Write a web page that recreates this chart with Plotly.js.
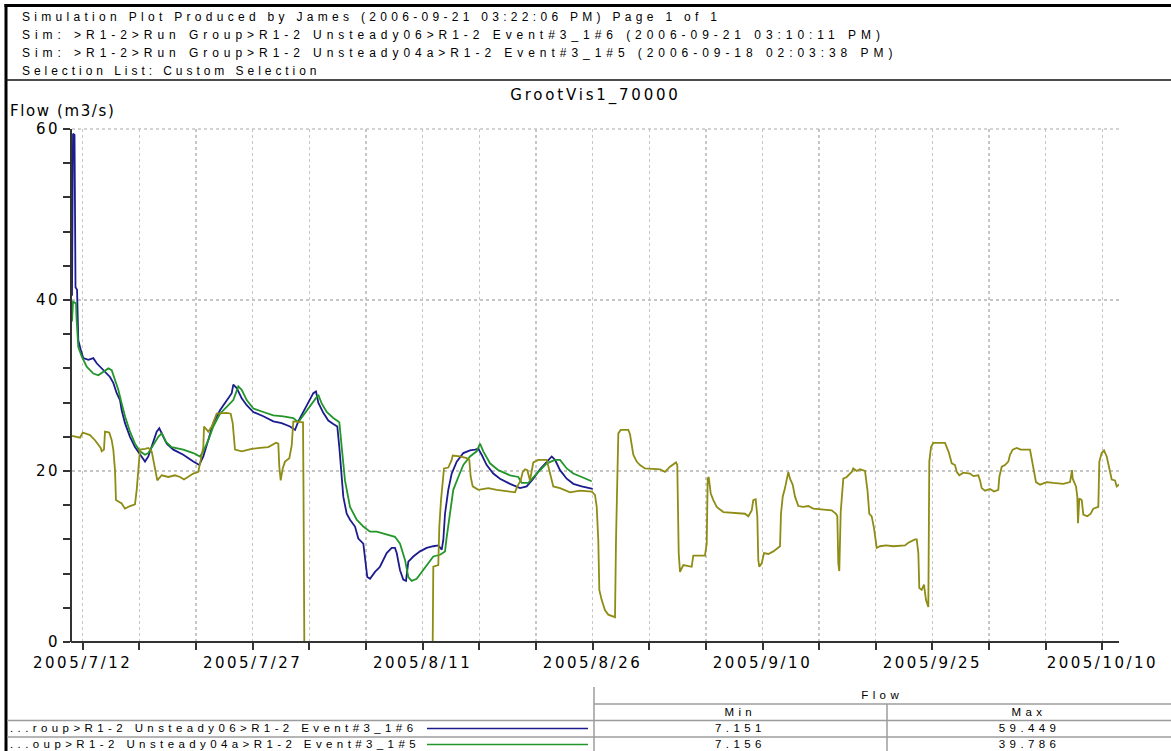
<!DOCTYPE html>
<html>
<head>
<meta charset="utf-8">
<script src="https://cdn.plot.ly/plotly-3.0.1.min.js"></script>
<style>
  html, body { margin: 0; padding: 0; background: #ffffff; }
  #chart { width: 1171px; height: 751px; }
</style>
</head>
<body>
<div id="chart"></div>
<script>
// ---- report header -------------------------------------------------------
const headerLines = [
  'Simulation Plot Produced by James (2006-09-21 03:22:06 PM) Page 1 of 1',
  'Sim: >R1-2>Run Group>R1-2 Unsteady06>R1-2 Event#3_1#6 (2006-09-21 03:10:11 PM)',
  'Sim: >R1-2>Run Group>R1-2 Unsteady04a>R1-2 Event#3_1#5 (2006-09-18 02:03:38 PM)',
  'Selection List: Custom Selection'
];
const plotTitle = 'GrootVis1_70000';
const yTitle = 'Flow (m3/s)';

// ---- axis ticks ------------------------------------------------------------
const xTickDates  = ['2005-07-12', '2005-07-27', '2005-08-11', '2005-08-26', '2005-09-10', '2005-09-25', '2005-10-10'];
const xTickLabels = ['2005/7/12', '2005/7/27', '2005/8/11', '2005/8/26', '2005/9/10', '2005/9/25', '2005/10/10'];
const yTickValues = [0, 20, 40, 60];

// ---- series: R1-2 Unsteady06 > Event#3_1#6 ---------------------------------
const runNames = ['...roup>R1-2 Unsteady06>R1-2 Event#3_1#6', '...oup>R1-2 Unsteady04a>R1-2 Event#3_1#5'];

const run06Time = [
  '2005-07-11 01:20','2005-07-11 02:20','2005-07-11 03:30','2005-07-11 06:40','2005-07-11 08:45','2005-07-11 12:00','2005-07-11 13:25','2005-07-11 14:40','2005-07-11 19:45',
  '2005-07-12 01:15','2005-07-12 12:00','2005-07-12 22:30','2005-07-13 05:40','2005-07-13 16:15','2005-07-13 23:15','2005-07-14 09:50','2005-07-14 16:50',
  '2005-07-15 00:00','2005-07-15 07:00','2005-07-15 10:35','2005-07-15 17:35','2005-07-16 04:10','2005-07-16 14:45','2005-07-17 01:25','2005-07-17 12:00',
  '2005-07-17 19:00','2005-07-18 04:15','2005-07-18 12:45','2005-07-18 18:15','2005-07-19 02:45','2005-07-19 10:00','2005-07-20 00:00','2005-07-20 21:05',
  '2005-07-21 18:15','2005-07-22 07:00','2005-07-22 15:30','2005-07-23 02:05','2005-07-23 12:40','2005-07-24 02:50','2005-07-24 17:00','2005-07-25 03:40',
  '2005-07-25 07:00','2005-07-25 14:15','2005-07-26 00:50','2005-07-26 11:25','2005-07-27 01:25','2005-07-27 22:35','2005-07-28 19:45','2005-07-29 13:30',
  '2005-07-30 07:05','2005-07-30 17:45','2005-07-31 00:40','2005-07-31 11:15','2005-07-31 21:55','2005-08-01 08:30','2005-08-01 14:10','2005-08-01 19:05',
  '2005-08-02 05:40','2005-08-02 16:15','2005-08-03 02:50','2005-08-03 11:20','2005-08-03 15:35','2005-08-03 20:40','2005-08-04 00:00','2005-08-04 07:15',
  '2005-08-04 14:15','2005-08-05 00:50','2005-08-05 07:50','2005-08-05 18:25','2005-08-05 22:00','2005-08-06 02:50','2005-08-06 08:35','2005-08-06 19:10',
  '2005-08-07 05:45','2005-08-07 19:55','2005-08-08 06:35','2005-08-08 13:30','2005-08-08 17:10','2005-08-09 00:10','2005-08-09 07:05','2005-08-09 12:50',
  '2005-08-09 17:45','2005-08-10 04:20','2005-08-10 18:30','2005-08-11 08:40','2005-08-11 22:40','2005-08-12 09:15','2005-08-12 16:30','2005-08-12 19:50',
  '2005-08-12 23:30','2005-08-13 06:25','2005-08-13 13:40','2005-08-14 00:15','2005-08-14 14:15','2005-08-15 04:25','2005-08-15 15:00','2005-08-15 22:00',
  '2005-08-16 05:10','2005-08-16 15:45','2005-08-17 05:45','2005-08-17 19:55','2005-08-18 17:10','2005-08-19 14:20','2005-08-20 04:30','2005-08-20 18:30',
  '2005-08-21 08:40','2005-08-21 22:55','2005-08-22 09:30','2005-08-22 16:30','2005-08-23 03:05','2005-08-23 17:15','2005-08-24 07:15','2005-08-25 01:00',
  '2005-08-26 00:20'
];
const run06Flow = [
  40.5, 59.2, 59.449, 59.3, 41.5, 41.2, 37.3, 35.3, 34.2,
  33.2, 33.0, 33.2, 32.6, 32.0, 31.7, 31.0, 30.3,
  29.1, 28.3, 27.1, 25.6, 24.0, 22.8, 21.9, 21.1,
  21.7, 23.2, 24.6, 25.0, 24.0, 23.2, 22.5, 21.9,
  21.1, 20.7, 21.7, 23.6, 25.6, 27.1, 28.3, 29.1,
  30.1, 29.7, 28.5, 27.7, 26.9, 26.4, 25.8, 25.6,
  25.2, 24.8, 25.8, 26.9, 27.9, 29.1, 29.3, 28.0,
  26.8, 25.9, 25.5, 25.2, 22.8, 19.7, 17.0, 15.0,
  14.3, 13.5, 12.1, 11.5, 9.6, 7.6, 7.4, 8.2,
  8.8, 10.4, 11.0, 11.0, 10.4, 8.4, 7.3, 7.151,
  9.4, 10.0, 10.6, 11.0, 11.2, 11.3, 10.8, 11.9,
  15.0, 17.8, 19.7, 21.1, 22.1, 22.4, 22.5, 22.6,
  21.9, 20.7, 19.7, 19.1, 18.5, 18.0, 18.2, 19.1,
  20.2, 21.1, 21.7, 21.3, 20.1, 19.1, 18.5, 18.2,
  17.9
];

// ---- series: R1-2 Unsteady04a > Event#3_1#5 --------------------------------
const run04aTime = [
  '2005-07-11 01:20','2005-07-11 03:30','2005-07-11 09:50','2005-07-11 10:50','2005-07-11 14:40','2005-07-11 21:55','2005-07-12 08:30','2005-07-12 22:30',
  '2005-07-13 09:05','2005-07-13 19:40','2005-07-14 06:15','2005-07-14 13:25','2005-07-14 20:25','2005-07-15 03:25','2005-07-15 10:35','2005-07-15 17:35',
  '2005-07-16 04:10','2005-07-16 14:45','2005-07-17 01:25','2005-07-17 12:00','2005-07-17 19:00','2005-07-18 05:35','2005-07-18 16:10','2005-07-18 23:20',
  '2005-07-19 08:25','2005-07-19 20:30','2005-07-20 21:05','2005-07-21 18:15','2005-07-22 08:30','2005-07-22 15:30','2005-07-23 02:05','2005-07-23 12:40',
  '2005-07-24 02:50','2005-07-24 17:00','2005-07-25 07:00','2005-07-25 17:35','2005-07-26 00:50','2005-07-26 11:25','2005-07-27 01:25','2005-07-27 22:35',
  '2005-07-28 19:45','2005-07-29 16:55','2005-07-30 14:05','2005-07-31 00:40','2005-07-31 11:15','2005-08-01 01:30','2005-08-01 15:40','2005-08-01 19:05',
  '2005-08-02 02:15','2005-08-02 12:50','2005-08-03 02:50','2005-08-03 15:35','2005-08-03 20:40','2005-08-04 03:35','2005-08-04 14:15','2005-08-05 04:25',
  '2005-08-05 18:25','2005-08-06 08:35','2005-08-06 22:45','2005-08-07 12:45','2005-08-08 03:00','2005-08-08 13:30','2005-08-09 00:10','2005-08-09 10:45',
  '2005-08-09 17:45','2005-08-10 00:55','2005-08-10 11:30','2005-08-10 22:05','2005-08-11 08:40','2005-08-11 22:40','2005-08-12 13:05','2005-08-12 23:30',
  '2005-08-13 03:05','2005-08-13 10:05','2005-08-13 17:00','2005-08-14 03:40','2005-08-14 14:15','2005-08-15 04:25','2005-08-15 18:35','2005-08-16 01:35',
  '2005-08-16 08:35','2005-08-16 22:45','2005-08-17 16:20','2005-08-18 17:10','2005-08-19 10:45','2005-08-19 17:55','2005-08-20 07:55','2005-08-21 01:45',
  '2005-08-21 22:55','2005-08-22 16:30','2005-08-23 03:05','2005-08-23 17:15','2005-08-24 07:15','2005-08-25 01:00','2005-08-25 22:10'
];
const run04aFlow = [
  37.5, 39.786, 39.6, 38.0, 34.5, 33.4, 32.2, 31.4,
  31.2, 31.6, 32.0, 31.8, 30.6, 29.5, 27.9, 26.4,
  24.6, 23.2, 22.3, 21.9, 22.1, 23.0, 24.0, 24.4,
  23.4, 22.8, 22.5, 22.1, 21.7, 22.3, 23.6, 25.2,
  26.7, 27.5, 28.3, 29.9, 29.5, 28.3, 27.3, 26.9,
  26.5, 26.4, 26.2, 25.7, 26.5, 27.5, 28.7, 28.9,
  27.9, 26.9, 26.2, 25.7, 22.8, 18.9, 15.8, 14.3,
  13.5, 12.9, 12.9, 12.7, 12.5, 12.3, 11.5, 9.6,
  7.6, 7.156, 7.4, 8.2, 9.0, 10.0, 10.2, 10.6,
  12.3, 15.4, 17.8, 19.3, 20.7, 21.7, 22.3, 23.2,
  22.3, 20.9, 20.1, 19.5, 19.3, 18.6, 18.6, 19.7,
  20.9, 21.3, 21.3, 20.3, 19.7, 19.3, 18.8
];

// ---- series: third run (full period) ---------------------------------------
const run3Time = [
  '2005-07-11 01:20','2005-07-11 18:15','2005-07-12 00:00','2005-07-12 15:30','2005-07-13 02:05','2005-07-13 14:10','2005-07-13 16:15','2005-07-13 21:05',
  '2005-07-13 23:15','2005-07-14 08:20','2005-07-14 13:25','2005-07-14 16:50','2005-07-14 20:25','2005-07-14 22:30','2005-07-15 10:35','2005-07-15 17:35',
  '2005-07-16 04:10','2005-07-16 14:45','2005-07-16 18:25','2005-07-16 20:30','2005-07-16 23:15','2005-07-17 01:25','2005-07-17 12:00','2005-07-17 19:00',
  '2005-07-18 02:10','2005-07-18 07:00','2005-07-18 11:15','2005-07-18 14:00','2005-07-18 23:20','2005-07-19 13:20','2005-07-20 03:30','2005-07-20 14:05',
  '2005-07-20 22:35','2005-07-21 07:40','2005-07-21 18:15','2005-07-22 04:50','2005-07-22 10:00','2005-07-22 15:30','2005-07-22 17:00','2005-07-23 02:05',
  '2005-07-23 09:15','2005-07-23 14:10','2005-07-23 19:50','2005-07-24 17:00','2005-07-25 01:30','2005-07-25 05:45','2005-07-25 10:35','2005-07-26 00:50',
  '2005-07-26 22:00','2005-07-27 15:35','2005-07-28 09:10','2005-07-29 01:30','2005-07-29 06:20','2005-07-29 08:30','2005-07-29 11:25','2005-07-29 15:40',
  '2005-07-29 20:30','2005-07-30 05:40','2005-07-30 10:45','2005-07-30 14:05','2005-07-31 05:45','2005-07-31 10:40','2005-07-31 11:45','2005-07-31 13:25',
  '2005-08-11 21:25','2005-08-11 22:40','2005-08-12 09:15','2005-08-12 11:25','2005-08-12 15:00','2005-08-12 18:35','2005-08-12 21:20','2005-08-13 06:25',
  '2005-08-13 13:40','2005-08-13 15:45','2005-08-14 07:15','2005-08-14 21:25','2005-08-15 02:55','2005-08-15 05:55','2005-08-15 10:10','2005-08-15 22:00',
  '2005-08-16 19:10','2005-08-17 13:00','2005-08-18 10:10','2005-08-19 03:45','2005-08-19 08:35','2005-08-19 15:50','2005-08-19 20:05','2005-08-20 00:55',
  '2005-08-20 05:50','2005-08-20 11:30','2005-08-20 18:30','2005-08-21 05:05','2005-08-21 22:55','2005-08-22 02:15','2005-08-22 07:20','2005-08-22 12:50',
  '2005-08-23 03:05','2005-08-24 00:15','2005-08-24 21:25','2005-08-25 22:10','2005-08-26 05:10','2005-08-26 08:50','2005-08-26 12:10','2005-08-26 14:20',
  '2005-08-26 19:25','2005-08-27 02:25','2005-08-27 09:20','2005-08-27 23:35','2005-08-28 01:40','2005-08-28 04:25','2005-08-28 06:35','2005-08-28 11:40',
  '2005-08-29 03:45','2005-08-29 07:20','2005-08-29 10:55','2005-08-29 14:20','2005-08-29 21:30','2005-08-30 04:30','2005-08-30 15:05','2005-08-31 08:40',
  '2005-08-31 22:55','2005-09-01 09:30','2005-09-01 20:05','2005-09-02 08:45','2005-09-02 11:30','2005-09-02 14:30','2005-09-02 17:15','2005-09-03 00:15',
  '2005-09-03 10:50','2005-09-03 18:00','2005-09-03 21:25','2005-09-04 22:10','2005-09-05 01:50','2005-09-05 03:55','2005-09-05 06:05','2005-09-05 10:15',
  '2005-09-05 15:50','2005-09-05 23:00','2005-09-06 13:00','2005-09-07 10:10','2005-09-08 10:55','2005-09-08 17:55','2005-09-09 01:10','2005-09-09 04:30',
  '2005-09-09 09:35','2005-09-09 13:00','2005-09-09 15:05','2005-09-09 17:15','2005-09-09 22:20','2005-09-10 03:10','2005-09-10 12:20','2005-09-10 22:55',
  '2005-09-11 13:05','2005-09-11 15:10','2005-09-11 18:50','2005-09-11 23:40','2005-09-12 03:15','2005-09-12 06:40','2005-09-12 10:15','2005-09-12 16:00',
  '2005-09-12 20:50','2005-09-13 03:50','2005-09-13 14:25','2005-09-14 01:00','2005-09-14 11:35','2005-09-15 08:50','2005-09-16 02:35','2005-09-16 11:45',
  '2005-09-16 14:30','2005-09-16 16:35','2005-09-16 18:40','2005-09-16 21:40','2005-09-17 03:10','2005-09-17 10:25','2005-09-17 21:00','2005-09-18 00:20',
  '2005-09-18 07:35','2005-09-18 14:35','2005-09-19 01:10','2005-09-19 06:25','2005-09-19 10:15','2005-09-19 15:20','2005-09-19 20:15','2005-09-20 01:55',
  '2005-09-20 08:55','2005-09-20 21:40','2005-09-21 13:05','2005-09-22 13:55','2005-09-22 20:50','2005-09-23 11:05','2005-09-23 14:40','2005-09-23 18:05',
  '2005-09-23 20:10','2005-09-24 01:15','2005-09-24 06:05','2005-09-24 10:20','2005-09-24 15:15','2005-09-24 17:20','2005-09-24 21:00','2005-09-25 01:50',
  '2005-09-26 02:35','2005-09-26 06:10','2005-09-26 11:05','2005-09-26 16:50','2005-09-26 23:45','2005-09-27 03:25','2005-09-27 08:55','2005-09-27 17:20',
  '2005-09-28 07:35','2005-09-28 14:35','2005-09-29 01:10','2005-09-29 04:45','2005-09-29 08:20','2005-09-29 15:20','2005-09-30 01:55','2005-09-30 10:25',
  '2005-09-30 19:30','2005-09-30 21:40','2005-10-01 02:45','2005-10-01 09:40','2005-10-01 16:40','2005-10-01 20:15','2005-10-02 02:00','2005-10-02 10:30',
  '2005-10-02 19:00','2005-10-03 14:40','2005-10-03 18:15','2005-10-03 23:10','2005-10-04 03:20','2005-10-04 11:50','2005-10-05 02:00','2005-10-05 16:00',
  '2005-10-06 13:10','2005-10-07 03:25','2005-10-07 07:40','2005-10-07 09:05','2005-10-07 16:05','2005-10-07 18:50','2005-10-07 20:20','2005-10-07 23:05',
  '2005-10-08 04:10','2005-10-08 07:35','2005-10-08 16:05','2005-10-08 23:15','2005-10-09 04:45','2005-10-09 15:20','2005-10-09 17:30','2005-10-09 22:30',
  '2005-10-10 03:25','2005-10-10 09:10','2005-10-10 14:40','2005-10-10 19:45','2005-10-11 02:45','2005-10-11 06:20','2005-10-11 13:20'
];
const run3Flow = [
  24.1, 23.9, 24.5, 24.2, 23.6, 22.7, 22.3, 22.5,
  24.6, 24.5, 23.6, 22.5, 20.1, 16.6, 16.2, 15.6,
  15.9, 16.1, 17.8, 19.3, 21.3, 22.5, 22.6, 22.7,
  22.3, 20.9, 19.3, 18.9, 19.5, 19.3, 19.5, 19.3,
  19.0, 19.3, 19.7, 19.9, 21.3, 22.8, 25.2, 24.6,
  25.2, 26.0, 26.7, 26.8, 26.7, 25.6, 22.5, 22.3,
  22.6, 22.7, 22.8, 23.3, 23.2, 20.5, 18.9, 20.3,
  21.1, 21.5, 23.0, 25.8, 25.7, 25.7, 17.4, 0,
  0, 8.8, 9.0, 13.5, 16.6, 18.9, 20.3, 20.4,
  21.3, 21.8, 21.7, 21.5, 21.3, 19.3, 18.2, 17.8,
  18.0, 17.8, 17.6, 17.5, 18.2, 18.9, 19.9, 20.2,
  20.1, 18.9, 21.0, 21.3, 21.3, 20.5, 19.3, 18.2,
  18.0, 17.5, 17.7, 17.6, 17.2, 15.8, 11.9, 6.1,
  4.9, 3.7, 3.2, 2.9, 11.9, 18.9, 24.4, 24.8,
  24.8, 24.3, 23.0, 21.9, 21.1, 20.7, 20.3, 20.2,
  20.2, 19.9, 20.5, 21.0, 20.7, 10.4, 8.2, 9.0,
  8.9, 8.8, 10.1, 10.1, 11.5, 19.1, 19.3, 17.4,
  16.6, 15.8, 15.2, 15.1, 15.0, 14.7, 15.4, 16.6,
  16.7, 14.7, 9.6, 8.8, 9.2, 10.4, 10.3, 10.6,
  11.2, 15.0, 17.0, 18.0, 18.9, 19.9, 19.1, 18.4,
  17.0, 15.9, 15.8, 15.9, 15.6, 15.5, 15.4, 15.0,
  14.7, 9.2, 8.3, 15.2, 19.1, 19.3, 19.9, 20.3,
  20.0, 20.2, 20.0, 17.7, 15.0, 14.7, 13.3, 11.0,
  11.2, 11.3, 11.2, 11.3, 11.6, 12.0, 12.0, 10.4,
  6.3, 6.1, 6.7, 4.9, 4.1, 21.1, 22.8, 23.3,
  23.3, 22.8, 22.1, 20.9, 20.7, 19.9, 19.5, 19.8,
  19.7, 19.4, 19.5, 18.9, 18.0, 17.7, 17.9, 17.6,
  17.8, 19.3, 20.5, 20.7, 21.1, 21.9, 22.5, 22.7,
  22.5, 22.5, 21.3, 20.1, 18.7, 18.4, 18.7, 18.6,
  18.5, 18.7, 20.1, 19.1, 18.2, 17.0, 13.9, 16.8,
  16.6, 14.9, 14.7, 15.0, 15.6, 15.8, 21.1, 22.1,
  22.4, 21.7, 20.1, 19.0, 18.9, 18.2, 18.5
];

const seriesColors = ['#1c1c8e', '#22962a', '#8e8c14'];

// ---- page geometry (pixels) -------------------------------------------------
const PAGE_W = 1171, PAGE_H = 751;
const PL = 72, PR = 1119, PT = 129, PB = 642;
const toPaperX = x => (x - PL) / (PR - PL);
const toPaperY = y => (PB - y) / (PB - PT);

const textFont = 'Liberation Sans, Arial, sans-serif';
const axisFont = 'DejaVu Sans, Verdana, sans-serif';

const annotations = [];
const spacing = [];
function label(text, x, y, anchor, font, gap) {
  annotations.push({
    text: text, xref: 'paper', yref: 'paper',
    x: toPaperX(x), y: toPaperY(y),
    xanchor: anchor, yanchor: 'middle', align: anchor === 'left' ? 'left' : 'center',
    showarrow: false, font: font
  });
  spacing.push(gap);
}

// header block: one tracking value per line so each line ends where the printout does
const headFont = { family: textFont, size: 12, color: '#000' };
const headTracking = [4.3, 4.95, 4.95, 3.95];
headerLines.forEach((t, i) => label(t, 20, 17 + 18 * i, 'left', headFont, headTracking[i]));

label(yTitle, 8, 111, 'left', { family: axisFont, size: 15, color: '#000' }, 1.6);

// summary table (min / max of each plotted series)
const tableFont = { family: textFont, size: 11.5, color: '#000' };
const colMin = (594 + 887) / 2, colMax = (887 + 1171) / 2;
label('Flow', (594 + 1171) / 2, 695, 'center', tableFont, 4.4);
label('Min', colMin, 711.5, 'center', tableFont, 4.4);
label('Max', colMax, 711.5, 'center', tableFont, 4.4);
const tableSeries = [run06Flow, run04aFlow];
tableSeries.forEach((vals, i) => {
  const rowY = 728 + 15.5 * i;
  label(runNames[i], 8, rowY, 'left', tableFont, 4.4);
  label(Math.min(...vals).toFixed(3), colMin, rowY, 'center', tableFont, 4.4);
  label(Math.max(...vals).toFixed(3), colMax, rowY, 'center', tableFont, 4.4);
});

function seg(x0, y0, x1, y1, color, width, dash) {
  return { type: 'line', xref: 'paper', yref: 'paper', layer: 'above',
           x0: toPaperX(x0), y0: toPaperY(y0), x1: toPaperX(x1), y1: toPaperY(y1),
           line: { color: color, width: width, dash: dash || 'solid' } };
}
const ruleColor = '#9c9c9c';
const axisColor = '#333';
const shapes = [
  // page frame and header rule
  seg(4.5, 5.5, PAGE_W, 5.5, '#000', 3),
  seg(6, 4, 6, PAGE_H, '#000', 3),
  seg(6, 80, PAGE_W, 80, '#111', 1.5),
  // top grid rule at 60
  Object.assign(seg(PL, PT, PR, PT, '#c6c6c6', 1.4, '3px,3px'), { layer: 'below' }),
  // time axis base line (drawn over the plot edge)
  seg(PL - 1, PB, PR, PB, axisColor, 2),
  // summary table rules
  seg(594, 687, 594, PAGE_H, ruleColor, 1.5),
  seg(594, 704, PAGE_W, 704, ruleColor, 1.5),
  seg(887, 704, 887, PAGE_H, ruleColor, 1.5),
  seg(7, 720.5, PAGE_W, 720.5, ruleColor, 1.5),
  seg(7, 737, PAGE_W, 737, ruleColor, 1.5),
  // series keys
  seg(427, 728.5, 588, 728.5, seriesColors[0], 1.5),
  seg(427, 744.5, 588, 744.5, seriesColors[1], 1.5)
];

const traces = [
  { x: run06Time, y: run06Flow, name: runNames[0] },
  { x: run04aTime, y: run04aFlow, name: runNames[1] },
  { x: run3Time, y: run3Flow, name: 'run3' }
].map((t, i) => Object.assign(t, {
  type: 'scatter', mode: 'lines', hoverinfo: 'skip',
  line: { color: seriesColors[i], width: 1.8, shape: 'linear' }
}));

const gridStyle = { gridcolor: '#c6c6c6', griddash: '3px,3px', gridwidth: 1.4 };
const tickFont = { family: axisFont, size: 15, color: '#000' };

const layout = {
  width: PAGE_W, height: PAGE_H,
  margin: { l: PL, r: PAGE_W - PR, t: PT, b: PAGE_H - PB, pad: 0 },
  paper_bgcolor: '#ffffff', plot_bgcolor: '#ffffff',
  showlegend: false,
  title: {
    text: plotTitle, xref: 'paper', x: 0.5, xanchor: 'center',
    yref: 'container', y: 1 - 95 / PAGE_H, yanchor: 'middle',
    font: { family: axisFont, size: 15, color: '#000' }
  },
  xaxis: Object.assign({
    type: 'date',
    range: ['2005-07-11 01:20', '2005-10-11 11:10'],
    tickmode: 'array', tickvals: xTickDates, ticktext: xTickLabels,
    ticks: 'outside', ticklen: 7, tickwidth: 2, tickcolor: axisColor,
    showline: false, zeroline: false,
    showgrid: true, tickfont: tickFont,
    minor: Object.assign({ dtick: 5 * 86400000, tick0: '2005-07-12', ticks: 'outside',
                           ticklen: 7, tickwidth: 2, tickcolor: axisColor, showgrid: true }, gridStyle)
  }, gridStyle),
  yaxis: Object.assign({
    range: [0, 60],
    tickmode: 'array', tickvals: yTickValues,
    ticks: 'outside', ticklen: 7, tickwidth: 2, tickcolor: axisColor,
    showline: true, linecolor: axisColor, linewidth: 2, zeroline: false,
    showgrid: true, tickfont: tickFont,
    minor: { dtick: 4, tick0: 0, ticks: 'outside', ticklen: 7, tickwidth: 2, tickcolor: axisColor, showgrid: false }
  }, gridStyle),
  shapes: shapes,
  annotations: annotations
};

Plotly.newPlot('chart', traces, layout, { staticPlot: true, displayModeBar: false }).then(gd => {
  // widen the tracking of the printed report lettering
  gd.querySelectorAll('.xtick text, .ytick text').forEach(t => { t.style.letterSpacing = '2.5px'; });
  gd.querySelectorAll('.gtitle').forEach(t => { t.style.letterSpacing = '2.8px'; });
  gd.querySelectorAll('.annotation').forEach(g => {
    const i = +g.getAttribute('data-index');
    g.querySelectorAll('text').forEach(t => { t.style.letterSpacing = spacing[i] + 'px'; });
  });
});
</script>
</body>
</html>
